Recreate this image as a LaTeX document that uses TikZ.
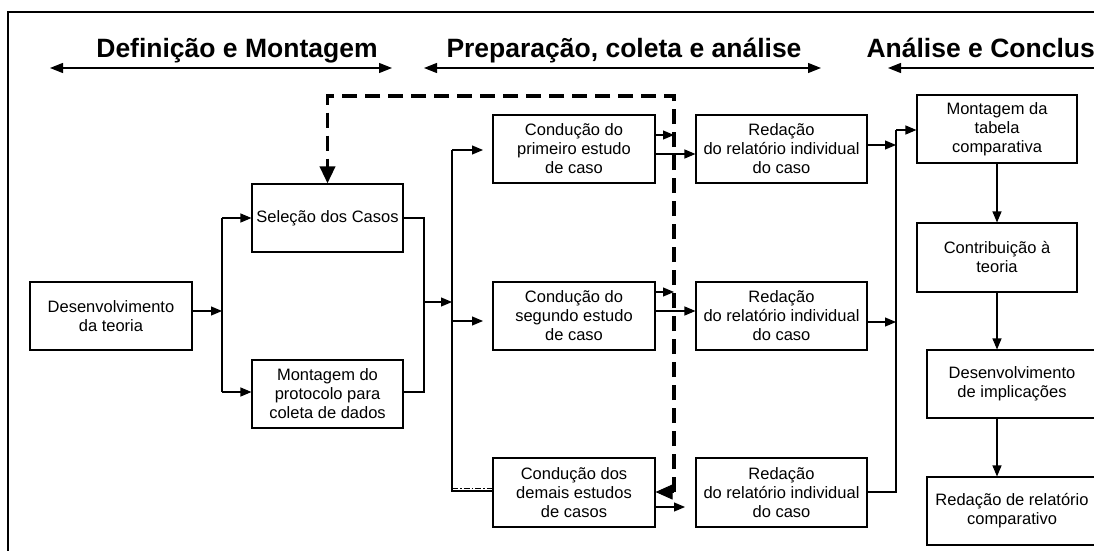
\documentclass[tikz,border=0pt]{standalone}
\usepackage{fontspec}
\setmainfont{Liberation Sans}
\usetikzlibrary{arrows.meta,calc}
\tikzset{
 bx/.style={draw, line width=1.1pt, align=center, inner sep=0pt, font=\fontsize{16.5}{19}\selectfont},
 arr/.style={line width=1.1pt, -{Triangle[length=11pt,width=9pt]}},
 ln/.style={line width=1.1pt},
 hdr/.style={font=\fontsize{26.5}{30}\selectfont\bfseries, inner sep=0pt, anchor=base},
 harr/.style={line width=1.3pt, {Triangle[length=13pt,width=10pt]}-{Triangle[length=13pt,width=10pt]}},
 harrl/.style={line width=1.3pt, {Triangle[length=13pt,width=10pt]}-},
 dline/.style={line width=3.5pt, dash pattern=on 15pt off 8pt},
}
\begin{document}
\begin{tikzpicture}[x=1pt,y=-1pt]
\useasboundingbox (0,0) rectangle (1094,551);
\clip (0,0) rectangle (1094,551);
% frame
\draw[line width=2pt] (8,600) -- (8,12) -- (1120,12);
% headers
\node[hdr] (h1) at (237,57) {Definição e Montagem};
\node[hdr] (h2) at (624,57) {Preparação, coleta e análise};
\node[hdr, anchor=base east] (h3) at (1095,57) {Análise e Conclus};
\coordinate (a1l) at (50,68); \coordinate (a1r) at (392,68);
\coordinate (a2l) at (424,68); \coordinate (a2r) at (821,68);
\coordinate (a3l) at (888,68); \coordinate (a3r) at (1120,68);
\draw[harr] (a1l) -- (a1r);
\draw[harr] (a2l) -- (a2r);
\draw[harrl] (a3l) -- (a3r);
% boxes
\node[bx, minimum width=162pt, minimum height=68pt] (dt) at (111,316) {Desenvolvimento\\da teoria};
\node[bx, minimum width=151pt, minimum height=68pt] (sel) at (327.5,218) {Seleção dos Casos};
\node[bx, minimum width=151pt, minimum height=68pt] (mon) at (327.5,394) {Montagem do\\protocolo para\\coleta de dados};
\node[bx, minimum width=162pt, minimum height=68pt] (c1) at (574,149) {Condução do\\primeiro estudo\\de caso};
\node[bx, minimum width=162pt, minimum height=68pt] (c2) at (574,316) {Condução do\\segundo estudo\\de caso};
\node[bx, minimum width=162pt, minimum height=69pt] (c3) at (574,492.5) {Condução dos\\demais estudos\\de casos};
\node[bx, minimum width=171pt, minimum height=68pt] (r1) at (781.5,149) {Redação\\do relatório individual\\do caso};
\node[bx, minimum width=171pt, minimum height=68pt] (r2) at (781.5,316) {Redação\\do relatório individual\\do caso};
\node[bx, minimum width=171pt, minimum height=69pt] (r3) at (781.5,492.5) {Redação\\do relatório individual\\do caso};
\node[bx, minimum width=160pt, minimum height=68pt] (t1) at (997,129) {Montagem da\\tabela\\comparativa};
\node[bx, minimum width=160pt, minimum height=69pt] (t2) at (997,257.5) {Contribuição à\\teoria};
\node[bx, minimum width=170pt, minimum height=68pt] (t3) at (1012,384) {Desenvolvimento\\de implicações};
\node[bx, minimum width=170pt, minimum height=68pt] (t4) at (1012,511) {Redação de relatório\\comparativo};
% left junction
\coordinate (j1) at (222,311);
\coordinate (j1a) at (222,218);
\coordinate (j1b) at (222,392);
\draw[arr] (dt.east |- j1) -- (j1);
\draw[ln] (j1a) -- (j1b);
\draw[arr] (j1a) -- (sel.west |- j1a);
\draw[arr] (j1b) -- (mon.west |- j1b);
% merge
\coordinate (m1) at (424,218);
\coordinate (m2) at (424,392);
\coordinate (m3) at (423,302);
\coordinate (j2) at (452,302);
\draw[ln] (sel.east |- m1) -- (m1) -- (m2) -- (mon.east |- m2);
\draw[arr] (m3) -- (j2);
% second vertical
\coordinate (v2t) at (452,150);
\coordinate (v2m) at (452,321);
\coordinate (v2b) at (452,491);
\coordinate (v2d) at (452,488);
\coordinate (e1) at (483,150);
\coordinate (e2) at (483,321);
\draw[ln] (v2t) -- (v2b) -- (c3.west |- v2b);
\draw[line width=0.7pt, dash pattern=on 6pt off 2pt on 1.5pt off 2pt] (v2d) -- (c3.west |- v2d);
\draw[arr] (v2t) -- (e1);
\draw[arr] (v2m) -- (e2);
% dashed feedback
\coordinate (dA) at (674,492);
\coordinate (dB) at (674,96);
\coordinate (dC) at (327.5,96);
\coordinate (dD) at (327.5,170);
\draw[dline] (dA) -- (dB) -- (dC) -- (dD);
\draw[line width=3.5pt, -{Triangle[length=17pt,width=15pt]}] (dD) -- (sel.north);
\draw[line width=1pt, -{Triangle[length=17pt,width=15pt]}] (dA) -- (c3.east |- dA);
% outputs of conduction boxes
\coordinate (o1u) at (655,135); \coordinate (o1l) at (655,154);
\coordinate (o2u) at (655,292); \coordinate (o2l) at (655,311);
\coordinate (o3l) at (655,507); \coordinate (o3e) at (685,507);
\draw[arr] (o1u) -- (dB |- o1u);
\draw[arr] (o1l) -- (r1.west |- o1l);
\draw[arr] (o2u) -- (dB |- o2u);
\draw[arr] (o2l) -- (r2.west |- o2l);
\draw[arr] (o3l) -- (o3e);
% right vertical
\coordinate (v3t) at (896,130);
\coordinate (v3b) at (896,492);
\coordinate (p1) at (867,145);
\coordinate (p2) at (867,322);
\draw[ln] (r3.east |- v3b) -- (v3b) -- (v3t);
\draw[arr] (v3t) -- (t1.west |- v3t);
\draw[arr] (p1) -- (v3t |- p1);
\draw[arr] (p2) -- (v3t |- p2);
% right column
\draw[arr] (t1.south) -- (t2.north);
\draw[arr] (t2.south) -- (t2.south |- t3.north);
\draw[arr] (t2.south |- t3.south) -- (t2.south |- t4.north);
\end{tikzpicture}
\end{document}
